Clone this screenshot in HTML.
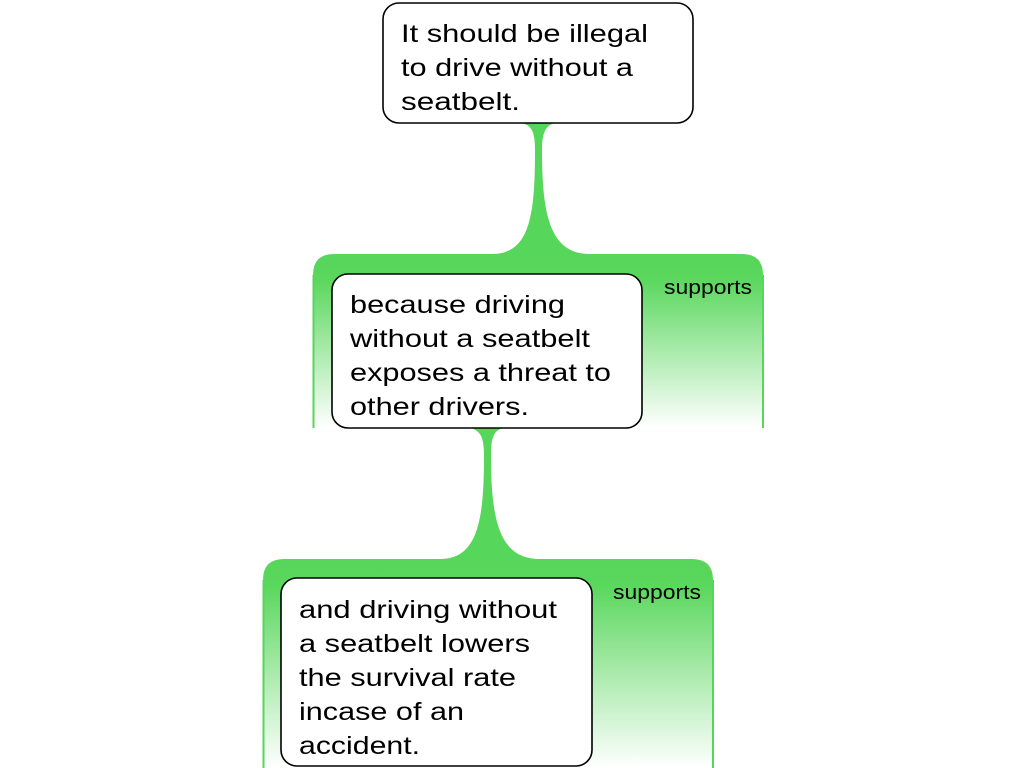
<!DOCTYPE html>
<html><head><meta charset="utf-8"><style>
html,body{margin:0;padding:0;background:#fff;}
svg{display:block;}
text{font-family:"Liberation Sans",sans-serif;fill:#000;}
</style></head><body>
<svg width="1024" height="768" viewBox="0 0 1024 768" xmlns="http://www.w3.org/2000/svg">
<defs>
<linearGradient id="g1" x1="0" y1="253" x2="0" y2="428" gradientUnits="userSpaceOnUse">
<stop offset="0" stop-color="#56d65a"/><stop offset="0.15" stop-color="#5ad75d"/><stop offset="1" stop-color="#ffffff"/>
</linearGradient>
<linearGradient id="g2" x1="0" y1="558" x2="0" y2="768" gradientUnits="userSpaceOnUse">
<stop offset="0" stop-color="#56d65a"/><stop offset="0.13" stop-color="#5ad75d"/><stop offset="1" stop-color="#ffffff"/>
</linearGradient>
</defs>
<path d="M313,428 L313,275 Q313,254 334,254 L742,254 Q763,254 763,275 L763,428 Z" fill="url(#g1)"/>
<line x1="313.5" y1="275" x2="313.5" y2="428" stroke="#56d65a" stroke-width="2"/>
<line x1="763" y1="275" x2="763" y2="428" stroke="#56d65a" stroke-width="2"/>
<path d="M263,768 L263,580 Q263,559 284,559 L692,559 Q713,559 713,580 L713,768 Z" fill="url(#g2)"/>
<line x1="263.5" y1="580" x2="263.5" y2="768" stroke="#56d65a" stroke-width="2"/>
<line x1="713" y1="580" x2="713" y2="768" stroke="#56d65a" stroke-width="2"/>
<path d="M509,122 L566,122 C548,122 542,127 542,150 C542,215 550,254 590,254 L492,254 C530,254 535,215 535,150 C535,127 530,122 509,122 Z" fill="#56d65a"/>
<path d="M458,427 L514,427 C496,427 491,432 491,455 C491,520 499,559 540,559 L440,559 C478,559 484,520 484,455 C484,432 478,427 458,427 Z" fill="#56d65a"/>
<rect x="383" y="3" width="310" height="120" rx="16" fill="#fff" stroke="#000" stroke-width="1.6"/>
<rect x="332" y="274" width="310" height="154" rx="16" fill="#fff" stroke="#000" stroke-width="1.6"/>
<rect x="281" y="578" width="311" height="188" rx="16" fill="#fff" stroke="#000" stroke-width="1.6"/>
<g font-size="25" lengthAdjust="spacingAndGlyphs">
<text x="401" y="42" textLength="247" lengthAdjust="spacingAndGlyphs">It should be illegal</text>
<text x="401" y="76" textLength="232" lengthAdjust="spacingAndGlyphs">to drive without a</text>
<text x="401" y="110" textLength="119" lengthAdjust="spacingAndGlyphs">seatbelt.</text>
<text x="350" y="313" textLength="215" lengthAdjust="spacingAndGlyphs">because driving</text>
<text x="350" y="347" textLength="240" lengthAdjust="spacingAndGlyphs">without a seatbelt</text>
<text x="350" y="381" textLength="261" lengthAdjust="spacingAndGlyphs">exposes a threat to</text>
<text x="350" y="415" textLength="179" lengthAdjust="spacingAndGlyphs">other drivers.</text>
<text x="299" y="618" textLength="258" lengthAdjust="spacingAndGlyphs">and driving without</text>
<text x="299" y="652" textLength="231" lengthAdjust="spacingAndGlyphs">a seatbelt lowers</text>
<text x="299" y="686" textLength="217" lengthAdjust="spacingAndGlyphs">the survival rate</text>
<text x="299" y="720" textLength="165" lengthAdjust="spacingAndGlyphs">incase of an</text>
<text x="299" y="754" textLength="121" lengthAdjust="spacingAndGlyphs">accident.</text>
</g>
<text x="664" y="294" font-size="20" textLength="88" lengthAdjust="spacingAndGlyphs">supports</text>
<text x="613" y="599" font-size="20" textLength="88" lengthAdjust="spacingAndGlyphs">supports</text>
</svg>
</body></html>
